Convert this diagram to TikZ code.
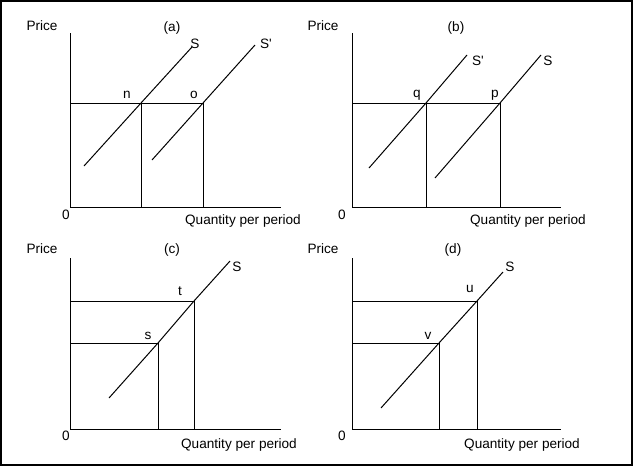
\documentclass[tikz,border=0pt]{standalone}
\usepackage{fontspec}
\setmainfont{Liberation Sans}
\newcommand{\lblsize}{\fontsize{13.6}{16}\selectfont}

\begin{document}
\begin{tikzpicture}[x=1pt,y=-1pt,line width=1pt]
    \useasboundingbox (0,0) rectangle (633,466);
    \draw[line width=2pt] (1,1) rectangle (632,465);

    % axes and points
    \coordinate (a0) at (70,207);  \coordinate (atop) at (70,33);  \coordinate (aend) at (281,207);
    \coordinate (b0) at (352,207); \coordinate (btop) at (352,33); \coordinate (bend) at (561,207);
    \coordinate (c0) at (70,429);  \coordinate (ctop) at (70,258); \coordinate (cend) at (281,429);
    \coordinate (d0) at (352,429); \coordinate (dtop) at (352,258);\coordinate (dend) at (561,429);

    \coordinate (n) at (141,103); \coordinate (o) at (203,103);
    \coordinate (q) at (426,103); \coordinate (p) at (500,103);
    \coordinate (s) at (158,343); \coordinate (t) at (194,301);
    \coordinate (v) at (439,343); \coordinate (u) at (477,301);

    % supply curve ends
    \coordinate (aS1) at (84,166);  \coordinate (aS2) at (192,47);
    \coordinate (aT1) at (152,160); \coordinate (aT2) at (255,45);
    \coordinate (bT1) at (369,168); \coordinate (bT2) at (467,55);
    \coordinate (bS1) at (435,178); \coordinate (bS2) at (541,55);
    \coordinate (cS1) at (109,398); \coordinate (cS2) at (230,261);
    \coordinate (dS1) at (381,408); \coordinate (dS2) at (503,272);

    \begin{scope}[every node/.style={inner sep=0pt,font=\lblsize}]
        \node (apr) at (42,26) {Price};   \node (atl) at (172,28) {(a)};
        \node (azr) at (66,215) {0};      \node (aq) at (243,221) {Quantity per period};
        \node (ln) at (127,95) {n};       \node (lo) at (194,95) {o};
        \node (laS) at (195,44) {S};      \node (laT) at (266,44) {S\textquotesingle};

        \node (bpr) at (323,26) {Price};  \node (btl) at (456,28) {(b)};
        \node (bzr) at (342,215) {0};     \node (bq) at (528,221) {Quantity per period};
        \node (lq) at (417,95) {q};       \node (lp) at (495,95) {p};
        \node (lbT) at (478,61) {S\textquotesingle}; \node (lbS) at (548,61) {S};

        \node (cpr) at (42,249) {Price};  \node (ctl) at (172,250) {(c)};
        \node (czr) at (66,436) {0};      \node (cq) at (239,445) {Quantity per period};
        \node (lt) at (180,291) {t};      \node (ls) at (148,336) {s};
        \node (lcS) at (237,267) {S};

        \node (dpr) at (323,249) {Price}; \node (dtl) at (453,250) {(d)};
        \node (dzr) at (342,436) {0};     \node (dq) at (522,445) {Quantity per period};
        \node (lu) at (470,289) {u};      \node (lv) at (428,336) {v};
        \node (ldS) at (510,267) {S};
    \end{scope}

    % panel (a)
    \draw (atop) -- (a0) -- (aend);
    \draw (a0 |- n) -- (o);
    \draw (n) -- (n |- a0);
    \draw (o) -- (o |- a0);
    \draw (aS1) -- (n) -- (aS2);
    \draw (aT1) -- (o) -- (aT2);

    % panel (b)
    \draw (btop) -- (b0) -- (bend);
    \draw (b0 |- q) -- (p);
    \draw (q) -- (q |- b0);
    \draw (p) -- (p |- b0);
    \draw (bT1) -- (q) -- (bT2);
    \draw (bS1) -- (p) -- (bS2);

    % panel (c)
    \draw (ctop) -- (c0) -- (cend);
    \draw (c0 |- t) -- (t) -- (t |- c0);
    \draw (c0 |- s) -- (s) -- (s |- c0);
    \draw (cS1) -- (s) -- (t) -- (cS2);

    % panel (d)
    \draw (dtop) -- (d0) -- (dend);
    \draw (d0 |- u) -- (u) -- (u |- d0);
    \draw (d0 |- v) -- (v) -- (v |- d0);
    \draw (dS1) -- (v) -- (u) -- (dS2);
\end{tikzpicture}
\end{document}
